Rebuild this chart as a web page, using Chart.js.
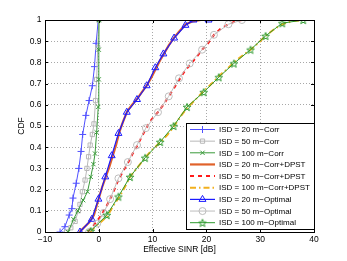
<!DOCTYPE html>
<html>
<head>
<meta charset="UTF-8">
<title>Effective SINR CDF</title>
<script src="https://cdn.jsdelivr.net/npm/chart.js"></script>
<style>
  html, body { margin: 0; padding: 0; background: #fff; }
</style>
</head>
<body>
<canvas id="cdfChart" width="347" height="261"></canvas>
<script>
// values: x = effective SINR [dB], y = CDF
var xTicks = [-10, 0, 10, 20, 30, 40];
var yTicks = [0, 0.1, 0.2, 0.3, 0.4, 0.5, 0.6, 0.7, 0.8, 0.9, 1];

var labels = [
  "ISD = 20 m\u2212Corr", "ISD = 50 m\u2212Corr", "ISD = 100 m\u2212Corr",
  "ISD = 20 m\u2212Corr+DPST", "ISD = 50 m\u2212Corr+DPST", "ISD = 100 m\u2212Corr+DPST",
  "ISD = 20 m\u2212Optimal", "ISD = 50 m\u2212Optimal", "ISD = 100 m\u2212Optimal"
];

var isd20CorrX = [-7.2, -6.3, -5.5, -5.0, -4.8, -4.2, -3.7, -3.3, -3.0, -2.4, -1.8, -1.2, -0.8, -0.5, -0.1];
var isd20CorrY = [0, 0.025, 0.08, 0.11, 0.16, 0.23, 0.30, 0.38, 0.46, 0.55, 0.62, 0.69, 0.78, 0.89, 1.0];

var isd50CorrX = [-6.0, -5.2, -4.4, -3.8, -3.5, -3.05, -2.55, -2.2, -1.9, -1.6, -1.2, -0.9, -0.6, -0.4, -0.2, 0.0];
var isd50CorrY = [0, 0.02, 0.05, 0.10, 0.13, 0.19, 0.245, 0.30, 0.355, 0.41, 0.46, 0.51, 0.62, 0.72, 0.87, 1.0];

var isd100CorrX = [-5.7, -4.7, -3.9, -2.9, -2.1, -1.5, -1.0, -0.7, -0.4, -0.1, 0.0, 0.0, 0.05];
var isd100CorrY = [0, 0.06, 0.10, 0.15, 0.19, 0.26, 0.32, 0.37, 0.47, 0.59, 0.72, 0.86, 1.0];

var isd20DpstX = [-3.6, -2.8, -1.8, -0.9, -0.1, 0.6, 1.3, 2.0, 2.6, 3.2, 3.8, 4.5, 5.3, 6.2, 7.2, 8.0, 8.9, 9.8, 10.6, 11.4, 12.1, 13.0, 14.1, 15.1, 16.2, 17.6, 19.0, 22.0];
var isd20DpstY = [0, 0.02, 0.045, 0.08, 0.15, 0.21, 0.26, 0.31, 0.36, 0.41, 0.47, 0.52, 0.57, 0.60, 0.63, 0.66, 0.69, 0.73, 0.77, 0.81, 0.84, 0.88, 0.92, 0.95, 0.98, 0.995, 1.0, 1.0];

var isd50DpstX = [-2.0, -1.0, 0.2, 1.2, 2.1, 2.9, 3.7, 4.6, 5.5, 6.3, 7.2, 8.0, 8.8, 9.8, 11.0, 12.0, 13.0, 14.0, 15.0, 16.0, 17.0, 18.0, 19.2, 20.3, 21.4, 22.7, 24.1, 25.5, 26.6];
var isd50DpstY = [0, 0.03, 0.07, 0.11, 0.155, 0.20, 0.25, 0.29, 0.33, 0.37, 0.41, 0.45, 0.49, 0.53, 0.565, 0.60, 0.64, 0.68, 0.72, 0.76, 0.79, 0.82, 0.86, 0.89, 0.93, 0.96, 0.98, 0.995, 1.0];

var isd100DpstX = [-1.6, -0.5, 0.5, 1.6, 2.6, 3.8, 4.8, 5.8, 7.2, 8.6, 10.0, 11.5, 12.8, 14.0, 15.2, 16.4, 18.0, 19.5, 21.0, 22.3, 23.7, 25.1, 26.6, 28.2, 29.6, 31.0, 32.5, 34.1, 36.0, 38.0];
var isd100DpstY = [0, 0.03, 0.05, 0.075, 0.12, 0.165, 0.21, 0.26, 0.305, 0.35, 0.39, 0.425, 0.46, 0.50, 0.545, 0.585, 0.625, 0.665, 0.70, 0.735, 0.765, 0.80, 0.83, 0.86, 0.89, 0.925, 0.955, 0.98, 0.995, 1.0];

var isd20OptX = [-3.5, -1.3, -0.07, 1.2, 2.4, 3.65, 5.2, 7.1, 8.9, 10.5, 12.0, 14.0, 16.1, 17.6, 20.4];
var isd20OptY = [0, 0.06, 0.155, 0.26, 0.36, 0.465, 0.565, 0.625, 0.69, 0.775, 0.84, 0.915, 0.975, 1.0, 1.0];

var isd50OptX = [-1.8, -0.3, 0.9, 2.1, 3.65, 5.4, 7.1, 8.75, 11.0, 13.0, 14.9, 16.9, 19.2, 21.4, 24.1, 26.6];
var isd50OptY = [0, 0.04, 0.09, 0.155, 0.253, 0.33, 0.41, 0.49, 0.565, 0.64, 0.725, 0.795, 0.86, 0.93, 0.98, 1.0];

var isd100OptX = [-1.5, 1.5, 3.65, 5.8, 8.6, 11.4, 13.9, 16.4, 19.5, 22.3, 25.1, 28.2, 31.0, 34.1, 38.0];
var isd100OptY = [0.005, 0.08, 0.167, 0.26, 0.35, 0.425, 0.50, 0.59, 0.66, 0.73, 0.795, 0.86, 0.925, 0.985, 1.0];

var FONT = "'Liberation Sans', Arial, sans-serif";

function pairs(xs, ys) {
  return xs.map(function (x, i) { return { x: x, y: ys[i] }; });
}

// matlab style pentagram marker
function makeStar(color, r) {
  var c = document.createElement("canvas");
  var s = Math.ceil(2 * r + 2);
  c.width = s; c.height = s;
  var g = c.getContext("2d");
  g.strokeStyle = color;
  g.lineWidth = 1;
  g.beginPath();
  for (var i = 0; i < 10; i++) {
    var a = -Math.PI / 2 + i * Math.PI / 5;
    var rr = (i % 2) ? r * 0.42 : r;
    g.lineTo(s / 2 + rr * Math.cos(a), s / 2 + 0.5 + rr * Math.sin(a));
  }
  g.closePath();
  g.stroke();
  return c;
}

function series(i, xs, ys, st) {
  var d = {
    label: labels[i],
    data: pairs(xs, ys),
    borderColor: st.color,
    borderWidth: st.width || 1,
    borderDash: st.dash || [],
    pointStyle: st.marker || "circle",
    pointRadius: st.marker ? (st.r || 3) : 0,
    pointBorderColor: st.color,
    pointBackgroundColor: "rgba(0,0,0,0)",
    pointBorderWidth: 1,
    tension: 0,
    fill: false,
    order: 20 - i
  };
  return d;
}

var starImg = makeStar("#2e9a2e", 4);

var datasets = [
  series(0, isd20CorrX, isd20CorrY, { color: "#5050ff", marker: "cross", r: 3.5 }),
  series(1, isd50CorrX, isd50CorrY, { color: "#b8b8b8", marker: "rect", r: 3 }),
  series(2, isd100CorrX, isd100CorrY, { color: "#3a9a3a", marker: "crossRot", r: 3 }),
  series(3, isd20DpstX, isd20DpstY, { color: "#e0622a", width: 2.2 }),
  series(4, isd50DpstX, isd50DpstY, { color: "#ff1a1a", width: 2, dash: [4, 4] }),
  series(5, isd100DpstX, isd100DpstY, { color: "#f2b01e", width: 2, dash: [6, 3, 1.5, 3] }),
  series(6, isd20OptX, isd20OptY, { color: "#1a1aff", width: 1.2, marker: "triangle", r: 4 }),
  series(7, isd50OptX, isd50OptY, { color: "#bdbdbd", marker: "circle", r: 3.5 }),
  series(8, isd100OptX, isd100OptY, { color: "#2e9a2e", marker: starImg, r: 4 })
];

function drawMarker(ctx, ds, x, y) {
  if (!ds.pointRadius) return;
  if (Chart.helpers && Chart.helpers.drawPoint) {
    Chart.helpers.drawPoint(ctx, {
      pointStyle: ds.pointStyle, radius: ds.pointRadius, rotation: 0, borderWidth: 1
    }, x, y);
  }
}

// axes box, inward ticks and the legend inside the plot
var boxPlugin = {
  id: "boxAndLegend",
  afterDraw: function (chart) {
    var ctx = chart.ctx;
    var a = chart.chartArea;
    var sx = chart.scales.x, sy = chart.scales.y;
    ctx.save();
    ctx.strokeStyle = "#000";
    ctx.lineWidth = 1;
    ctx.setLineDash([]);
    ctx.beginPath();
    xTicks.forEach(function (v) {
      var px = Math.round(sx.getPixelForValue(v)) + 0.5;
      ctx.moveTo(px, a.bottom); ctx.lineTo(px, a.bottom - 3);
      ctx.moveTo(px, a.top); ctx.lineTo(px, a.top + 3);
    });
    yTicks.forEach(function (v) {
      var py = Math.round(sy.getPixelForValue(v)) + 0.5;
      ctx.moveTo(a.left, py); ctx.lineTo(a.left + 3, py);
      ctx.moveTo(a.right, py); ctx.lineTo(a.right - 3, py);
    });
    ctx.stroke();
    ctx.strokeRect(Math.round(a.left) + 0.5, Math.round(a.top) + 0.5,
      Math.round(a.right - a.left), Math.round(a.bottom - a.top));

    // legend
    var lx = 186, ly = 123, lw = 128, lh = 106;
    ctx.fillStyle = "#fff";
    ctx.fillRect(lx, ly, lw, lh);
    ctx.strokeRect(lx + 0.5, ly + 0.5, lw, lh);
    ctx.font = "8px " + FONT;
    ctx.textBaseline = "middle";
    ctx.textAlign = "left";
    chart.data.datasets.forEach(function (ds, i) {
      var y = 129.5 + i * 11.65;
      ctx.save();
      ctx.strokeStyle = ds.borderColor;
      ctx.lineWidth = ds.borderWidth;
      ctx.setLineDash(ds.borderDash || []);
      ctx.beginPath();
      ctx.moveTo(190, y); ctx.lineTo(215, y);
      ctx.stroke();
      ctx.setLineDash([]);
      ctx.strokeStyle = ds.pointBorderColor;
      ctx.fillStyle = "rgba(0,0,0,0)";
      ctx.lineWidth = 1;
      drawMarker(ctx, ds, 202.5, y);
      ctx.restore();
      ctx.fillStyle = "#000";
      ctx.fillText(ds.label, 219, y + 0.5);
    });
    ctx.restore();
  }
};

var ctx = document.getElementById("cdfChart").getContext("2d");
var chart = new Chart(ctx, {
  type: "line",
  data: { datasets: datasets },
  options: {
    responsive: false,
    animation: false,
    parsing: true,
    layout: { padding: { left: 0, right: 33, top: 20, bottom: 0 } },
    plugins: { legend: { display: false }, tooltip: { enabled: false } },
    scales: {
      x: {
        type: "linear",
        min: -10, max: 40,
        afterFit: function (s) { s.height = 29; },
        afterBuildTicks: function (s) { s.ticks = xTicks.map(function (v) { return { value: v }; }); },
        ticks: {
          color: "#000", padding: 3,
          font: { family: FONT, size: 8.5 },
          callback: function (v) { return v < 0 ? "\u2212" + Math.abs(v) : String(v); }
        },
        grid: { color: "#a8a8a8", drawTicks: false },
        border: { display: false, dash: [1, 2] },
        title: {
          display: true, text: "Effective SINR [dB]", color: "#000",
          font: { family: FONT, size: 8.5 }, padding: { top: 0, bottom: 6.5 }
        }
      },
      y: {
        min: 0, max: 1,
        afterFit: function (s) { s.width = 45; },
        afterBuildTicks: function (s) { s.ticks = yTicks.map(function (v) { return { value: v }; }); },
        ticks: {
          color: "#000", padding: 3.5,
          font: { family: FONT, size: 8.5 },
          callback: function (v) { return String(Math.round(v * 10) / 10); }
        },
        grid: { color: "#a8a8a8", drawTicks: false },
        border: { display: false, dash: [1, 2] },
        title: {
          display: true, text: "CDF", color: "#000",
          font: { family: FONT, size: 8.5 }, padding: { top: 17, bottom: 0 }
        }
      }
    }
  },
  plugins: [boxPlugin]
});
</script>
</body>
</html>
